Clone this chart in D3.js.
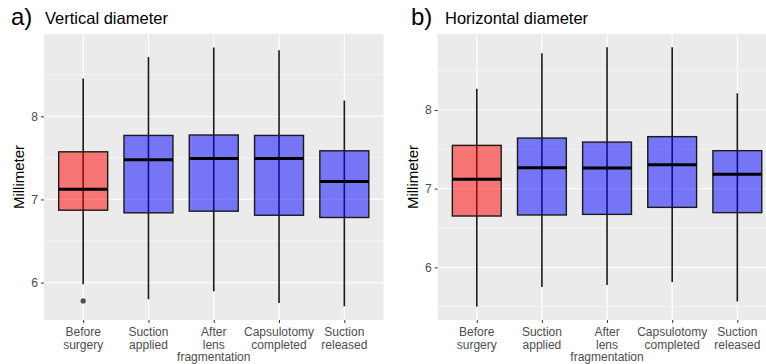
<!DOCTYPE html>
<html>
<head>
<meta charset="utf-8">
<script src="https://cdn.jsdelivr.net/npm/d3@7"></script>
<style>
  body { margin: 0; background: #fff; }
  svg { font-family: "Liberation Sans", Arial, sans-serif; }
</style>
</head>
<body>
<svg id="chart" width="766" height="364"></svg>
<script>
// categories on the x axis
const categories = ["Before surgery", "Suction applied", "After lens fragmentation", "Capsulotomy completed", "Suction released"];
const catLines = [["Before", "surgery"], ["Suction", "applied"], ["After", "lens", "fragmentation"], ["Capsulotomy", "completed"], ["Suction", "released"]];
const catColor = ["red", "blue", "blue", "blue", "blue"];

// a) vertical diameter (mm)
const vLower  = [5.98, 5.80, 5.895, 5.754, 5.715];
const vQ1     = [6.871, 6.839, 6.859, 6.81, 6.783];
const vMedian = [7.124, 7.477, 7.494, 7.494, 7.217];
const vQ3     = [7.573, 7.77, 7.775, 7.77, 7.585];
const vUpper  = [8.454, 8.714, 8.828, 8.795, 8.19];
const vOutliers = [{cat: 0, value: 5.78}];

// b) horizontal diameter (mm)
const hLower  = [5.50, 5.75, 5.775, 5.813, 5.565];
const hQ1     = [6.652, 6.665, 6.673, 6.762, 6.695];
const hMedian = [7.118, 7.267, 7.262, 7.305, 7.182];
const hQ3     = [7.55, 7.643, 7.592, 7.661, 7.483];
const hUpper  = [8.27, 8.72, 8.797, 8.797, 8.212];
const hOutliers = [];

const yTicks = [6, 7, 8];
const yMinor = [5.5, 6.5, 7.5, 8.5];

const svg = d3.select("#chart");

function drawPanel(opts) {
  const {left, right, top, bottom, domain, lower, q1, median, q3, upper, outliers, tag, title, titleX} = opts;
  const g = svg.append("g");

  // band scale with ggplot style 0.6 expansion
  const step = (right - left) / (categories.length - 1 + 1.2);
  const x = d3.scalePoint().domain(categories)
    .range([left + 0.6 * step, right - 0.6 * step]);
  const y = d3.scaleLinear().domain(domain).range([bottom, top]);
  const bw = step * 0.75;

  // panel background
  g.append("rect").attr("x", left).attr("y", top)
    .attr("width", right - left).attr("height", bottom - top)
    .attr("fill", "#EBEBEB");

  // minor grid
  g.selectAll(".minor").data(yMinor).enter().append("line")
    .attr("x1", left).attr("x2", right)
    .attr("y1", d => y(d)).attr("y2", d => y(d))
    .attr("stroke", "#fff").attr("stroke-width", 0.6);
  // major grid
  g.selectAll(".major").data(yTicks).enter().append("line")
    .attr("x1", left).attr("x2", right)
    .attr("y1", d => y(d)).attr("y2", d => y(d))
    .attr("stroke", "#fff").attr("stroke-width", 1.2);
  g.selectAll(".vgrid").data(categories).enter().append("line")
    .attr("x1", d => x(d)).attr("x2", d => x(d))
    .attr("y1", top).attr("y2", bottom)
    .attr("stroke", "#fff").attr("stroke-width", 1.2);

  // whiskers
  g.selectAll(".whisk").data(categories).enter().append("line")
    .attr("x1", d => x(d)).attr("x2", d => x(d))
    .attr("y1", (d, i) => y(lower[i])).attr("y2", (d, i) => y(upper[i]))
    .attr("stroke", "#1a1a1a").attr("stroke-width", 1.6);

  // boxes
  g.selectAll(".box").data(categories).enter().append("rect")
    .attr("x", d => x(d) - bw / 2)
    .attr("y", (d, i) => y(q3[i]))
    .attr("width", bw)
    .attr("height", (d, i) => y(q1[i]) - y(q3[i]))
    .attr("fill", (d, i) => catColor[i]).attr("fill-opacity", 0.5)
    .attr("stroke", "#1a1a1a").attr("stroke-width", 1.4);

  // medians
  g.selectAll(".med").data(categories).enter().append("line")
    .attr("x1", d => x(d) - bw / 2).attr("x2", d => x(d) + bw / 2)
    .attr("y1", (d, i) => y(median[i])).attr("y2", (d, i) => y(median[i]))
    .attr("stroke", "#000").attr("stroke-width", 3);

  // outliers
  g.selectAll(".out").data(outliers).enter().append("circle")
    .attr("cx", d => x(categories[d.cat])).attr("cy", d => y(d.value))
    .attr("r", 2.6).attr("fill", "#333").attr("fill-opacity", 0.85);

  // y axis
  const ya = g.append("g").attr("transform", `translate(${left},0)`)
    .call(d3.axisLeft(y).tickValues(yTicks).tickSize(3).tickPadding(3).tickFormat(d3.format("d")));
  ya.select(".domain").remove();
  ya.selectAll(".tick line").attr("stroke", "#333");
  ya.selectAll("text").attr("fill", "#4D4D4D").style("font-size", "12px").style("font-family", "Liberation Sans, Arial, sans-serif");

  // x axis
  const xa = g.append("g").attr("transform", `translate(0,${bottom})`)
    .call(d3.axisBottom(x).tickSize(3).tickFormat(""));
  xa.select(".domain").remove();
  xa.selectAll(".tick line").attr("stroke", "#333");
  categories.forEach((c, i) => {
    const t = g.append("text").attr("x", x(c)).attr("y", bottom + 16)
      .attr("text-anchor", "middle").attr("fill", "#4D4D4D").style("font-size", "12px");
    catLines[i].forEach((ln, j) => {
      t.append("tspan").attr("x", x(c)).attr("dy", j === 0 ? 0 : 12.6).text(ln);
    });
  });

  // y title
  g.append("text")
    .attr("transform", `translate(${left - 20},${(top + bottom) / 2}) rotate(-90)`)
    .attr("text-anchor", "middle").style("font-size", "15px").attr("fill", "#000")
    .text("Millimeter");

  // panel tag + title
  g.append("text").attr("x", titleX).attr("y", 25).style("font-size", "24px").text(tag);
  g.append("text").attr("x", titleX + 34).attr("y", 24).style("font-size", "16.5px").text(title);
}

drawPanel({left: 44, right: 383.5, top: 34, bottom: 320, domain: [5.55, 8.99],
  lower: vLower, q1: vQ1, median: vMedian, q3: vQ3, upper: vUpper, outliers: vOutliers,
  tag: "a)", title: "Vertical diameter", titleX: 11});

drawPanel({left: 437.7, right: 776.4, top: 34, bottom: 320, domain: [5.33, 8.966],
  lower: hLower, q1: hQ1, median: hMedian, q3: hQ3, upper: hUpper, outliers: hOutliers,
  tag: "b)", title: "Horizontal diameter", titleX: 411});
</script>
</body>
</html>
